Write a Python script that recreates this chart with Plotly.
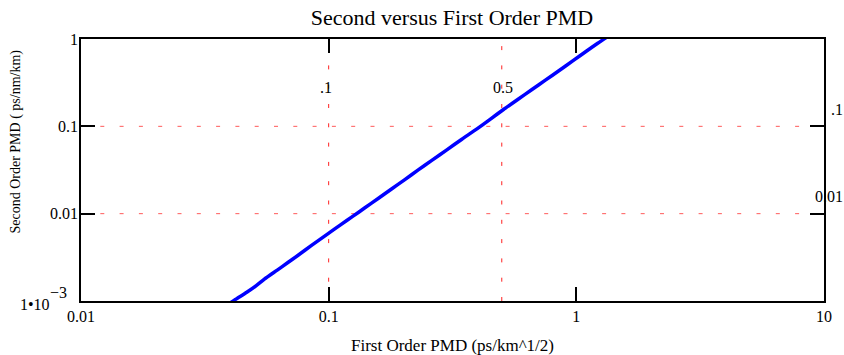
import math
import plotly.graph_objects as go

# Data
first_order_pmd = [0.038, 0.042, 0.0467, 0.051, 0.055, 0.062, 0.068, 0.0755, 0.085, 0.0995,
                   0.112, 0.125, 0.1396, 0.16, 0.18, 0.2017, 0.23, 0.26, 0.30, 0.345,
                   0.397, 0.45, 0.508, 0.58, 0.66, 0.75, 0.85, 0.97, 1.097, 1.22, 1.34, 1.45]
second_order_pmd = [0.00086, 0.00104, 0.00126, 0.0015, 0.00178, 0.00226, 0.00272, 0.00336, 0.0043, 0.0059,
                    0.0075, 0.0093, 0.0116, 0.0152, 0.0193, 0.0242, 0.0317, 0.0405, 0.0538, 0.0712,
                    0.0935, 0.121, 0.156, 0.203, 0.262, 0.338, 0.433, 0.565, 0.725, 0.893, 1.07, 1.26]

x_tickvals = [0.01, 0.1, 1, 10]
x_ticktext = ["0.01", "0.1", "1", "10"]
# the 1e-3 label is drawn as mantissa + full-size exponent (as in the reference)
y_tickvals = [0.01, 0.1, 1]
y_ticktext = ["0.01", "0.1", "1"]
y_min_label = ("1•10", "−3")

grid_x = [0.1, 0.5]
grid_x_labels = [".1", "0.5"]
grid_y = [0.1, 0.01]
grid_y_labels = [".1", "0.01"]

SERIF = "Liberation Serif, Times New Roman, serif"
L, R, T, B = 81, 14, 39, 54
W, H = 844, 355
plot_w = W - L - R
plot_h = H - T - B

fig = go.Figure()
fig.add_trace(go.Scatter(x=first_order_pmd, y=second_order_pmd, mode="lines",
                         line=dict(color="#0000ff", width=3.5, shape="spline", smoothing=0.6),
                         showlegend=False, hoverinfo="skip"))

shapes = []
for gx in grid_x:
    shapes.append(dict(type="line", xref="x", yref="paper", x0=gx, x1=gx, y0=0, y1=1,
                       line=dict(color="#ff2020", width=1, dash="4px,15.3px"), layer="below"))
for gy in grid_y:
    shapes.append(dict(type="line", xref="paper", yref="y", x0=0, x1=1, y0=gy, y1=gy,
                       line=dict(color="#ff5a5a", width=1, dash="4px,15.3px"), layer="below"))

LBL = dict(family=SERIF, size=16, color="black")
annotations = []
for gx, lab, dx in zip(grid_x, grid_x_labels, [-3, 1]):
    annotations.append(dict(x=math.log10(gx), xref="x", y=(H - B - 87) / plot_h, yref="paper",
                            text=lab, showarrow=False, xanchor="center", yanchor="middle",
                            xshift=dx, font=LBL))
for gy, lab in zip(grid_y, grid_y_labels):
    annotations.append(dict(x=(851 - L) / plot_w, xref="paper", y=math.log10(gy), yref="y",
                            yshift=17, text=lab, showarrow=False, xanchor="right",
                            yanchor="middle", font=LBL))
# bottom y tick label 1•10^-3
annotations.append(dict(x=-(L - 52) / plot_w, xref="paper", y=-3, yref="y", yshift=-3,
                        text=y_min_label[0], showarrow=False, xanchor="right", yanchor="middle",
                        font=LBL))
annotations.append(dict(x=-(L - 48) / plot_w, xref="paper", y=-3, yref="y", yshift=9,
                        text=y_min_label[1], showarrow=False, xanchor="left", yanchor="middle",
                        font=LBL))
# axis titles
annotations.append(dict(x=(455 - L) / plot_w, xref="paper", y=-(345 - (H - B)) / plot_h,
                        yref="paper", text="First Order PMD (ps/km^1/2)", showarrow=False,
                        xanchor="center", yanchor="middle",
                        font=dict(family=SERIF, size=17, color="black")))
annotations.append(dict(x=-(L - 15) / plot_w, xref="paper", y=(H - B - 142) / plot_h,
                        yref="paper", text="Second Order PMD ( ps/nm/km)", showarrow=False,
                        textangle=-90, xanchor="center", yanchor="middle",
                        font=dict(family=SERIF, size=14, color="black")))

fig.update_layout(
    width=W, height=H,
    margin=dict(l=L, r=R, t=T, b=B),
    paper_bgcolor="white", plot_bgcolor="white",
    title=dict(text="Second versus First Order PMD", x=452 / W, xanchor="center",
               y=1 - 17 / H, yanchor="middle",
               font=dict(family=SERIF, size=22, color="black")),
    xaxis=dict(type="log", range=[-2, 1], tickvals=x_tickvals, ticktext=x_ticktext,
               showgrid=False, zeroline=False, showline=True, linecolor="black", linewidth=1.5,
               mirror="ticks", ticks="inside", ticklen=14, tickwidth=1.5, tickcolor="black",
               tickfont=dict(family=SERIF, size=16, color="black"), ticklabelstandoff=0),
    yaxis=dict(type="log", range=[-3, 0], tickvals=y_tickvals, ticktext=y_ticktext,
               showgrid=False, zeroline=False, showline=True, linecolor="black", linewidth=1.5,
               mirror="ticks", ticks="inside", ticklen=14, tickwidth=1.5, tickcolor="black",
               tickfont=dict(family=SERIF, size=16, color="black"),
               ticklabelstandoff=-2),
    shapes=shapes,
    annotations=annotations,
)

fig.write_html("out.html")
